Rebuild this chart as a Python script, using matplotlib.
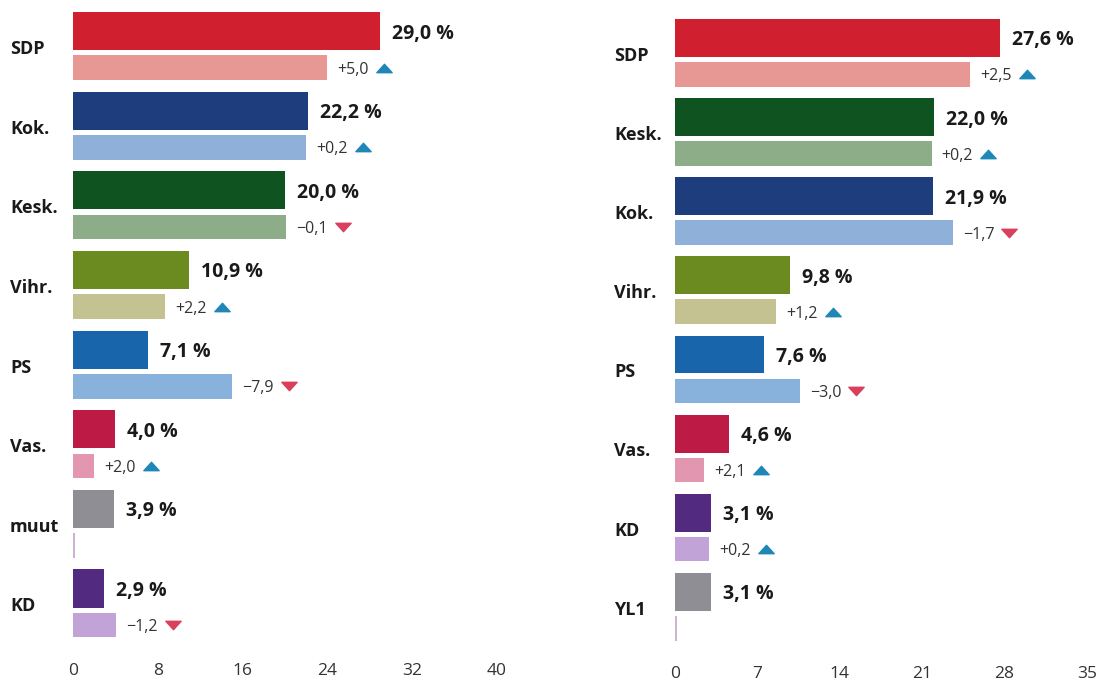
import matplotlib
matplotlib.use("Agg")
import matplotlib.pyplot as plt
from matplotlib.path import Path

plt.rcParams['font.family'] = ['Open Sans', 'DejaVu Sans']

# vasen paneeli
left_parties = ["SDP", "Kok.", "Kesk.", "Vihr.", "PS", "Vas.", "muut", "KD"]
left_now = [29.0, 22.2, 20.0, 10.9, 7.1, 4.0, 3.9, 2.9]
left_prev = [24.0, 22.0, 20.1, 8.7, 15.0, 2.0, 0.15, 4.1]
left_change = [5.0, 0.2, -0.1, 2.2, -7.9, 2.0, None, -1.2]
left_ticks = [0, 8, 16, 24, 32, 40]

# oikea paneeli
right_parties = ["SDP", "Kesk.", "Kok.", "Vihr.", "PS", "Vas.", "KD", "YL1"]
right_now = [27.6, 22.0, 21.9, 9.8, 7.6, 4.6, 3.1, 3.1]
right_prev = [25.1, 21.8, 23.6, 8.6, 10.6, 2.5, 2.9, 0.15]
right_change = [2.5, 0.2, -1.7, 1.2, -3.0, 2.1, 0.2, None]
right_ticks = [0, 7, 14, 21, 28, 35]

colors = {
    "SDP": ("#d01f2e", "#e79794"),
    "Kok.": ("#1d3d7c", "#8fb1d9"),
    "Kesk.": ("#0f5420", "#8dac88"),
    "Vihr.": ("#6b8a20", "#c4c291"),
    "PS": ("#1865ac", "#88b1dc"),
    "Vas.": ("#bd1a45", "#e296b0"),
    "muut": ("#8f8e94", "#cdb2d2"),
    "YL1": ("#8f8e94", "#cdb2d2"),
    "KD": ("#522b80", "#c2a3d8"),
}

W, H = 1098, 680
fig = plt.figure(figsize=(W / 100, H / 100), dpi=100)

up_color = "#1f86b8"
down_color = "#d8405e"
tri_up = Path([(-1, -0.55), (1, -0.55), (0, 0.55), (-1, -0.55)],
              [Path.MOVETO, Path.LINETO, Path.LINETO, Path.CLOSEPOLY])
tri_down = Path([(-1, 0.55), (1, 0.55), (0, -0.55), (-1, 0.55)],
                [Path.MOVETO, Path.LINETO, Path.LINETO, Path.CLOSEPOLY])


def fmt(v):
    return f"{v:.1f}".replace(".", ",")


def panel(rect, parties, now, prev, change, ticks, xmax, label_dx):
    ax = fig.add_axes(rect)
    n = len(parties)
    main_y = [i + 0.24 for i in range(n)]
    light_y = [i + 0.70 for i in range(n)]
    ax.barh(main_y, now, height=0.48, color=[colors[p][0] for p in parties])
    ax.barh(light_y, prev, height=0.31, color=[colors[p][1] for p in parties])
    ax.set_xlim(0, xmax)
    ax.set_ylim(n, 0)
    ax.set_xticks(ticks)
    ax.set_xticklabels([str(t) for t in ticks])
    ax.set_yticks([])
    ax.tick_params(axis='x', length=0, pad=10, labelsize=12.5, labelcolor="#333333")
    for s in ax.spines.values():
        s.set_visible(False)

    texts = []
    for i, p in enumerate(parties):
        ax.annotate(p, xy=(0, i + 0.44), xytext=(label_dx, 0), textcoords="offset pixels",
                    ha="left", va="center_baseline", fontsize=13, fontweight="bold",
                    color="#1a1a1a")
        ax.annotate(fmt(now[i]) + " %", xy=(now[i], main_y[i]), xytext=(12, 0),
                    textcoords="offset pixels", ha="left", va="center_baseline",
                    fontsize=14, fontweight="bold", color="#1a1a1a")
        if change[i] is not None:
            c = change[i]
            lab = ("+" if c >= 0 else "\u2212") + fmt(abs(c))
            t = ax.annotate(lab, xy=(prev[i], light_y[i]), xytext=(10, 0),
                            textcoords="offset pixels", ha="left", va="center_baseline",
                            fontsize=11.5, color="#333333")
            texts.append((t, c, light_y[i]))
    return ax, texts


axL, textsL = panel([73 / W, (H - 649) / H, 424 / W, 637 / H],
                    left_parties, left_now, left_prev, left_change, left_ticks, 40, -63)
axR, textsR = panel([675 / W, (H - 652) / H, 412 / W, 633 / H],
                    right_parties, right_now, right_prev, right_change, right_ticks, 35, -61)

# kolmiot muutosten perään
fig.canvas.draw()
for ax, texts in [(axL, textsL), (axR, textsR)]:
    inv = ax.transData.inverted()
    for t, c, y in texts:
        bb = t.get_window_extent()
        ydisp = ax.transData.transform((0, y))[1]
        xd, yd = inv.transform((bb.x1 + 15, ydisp))
        ax.plot([xd], [yd], marker=tri_up if c >= 0 else tri_down, markersize=11,
                color=up_color if c >= 0 else down_color, linestyle="none", clip_on=False)

fig.savefig("out.png", dpi=100)
